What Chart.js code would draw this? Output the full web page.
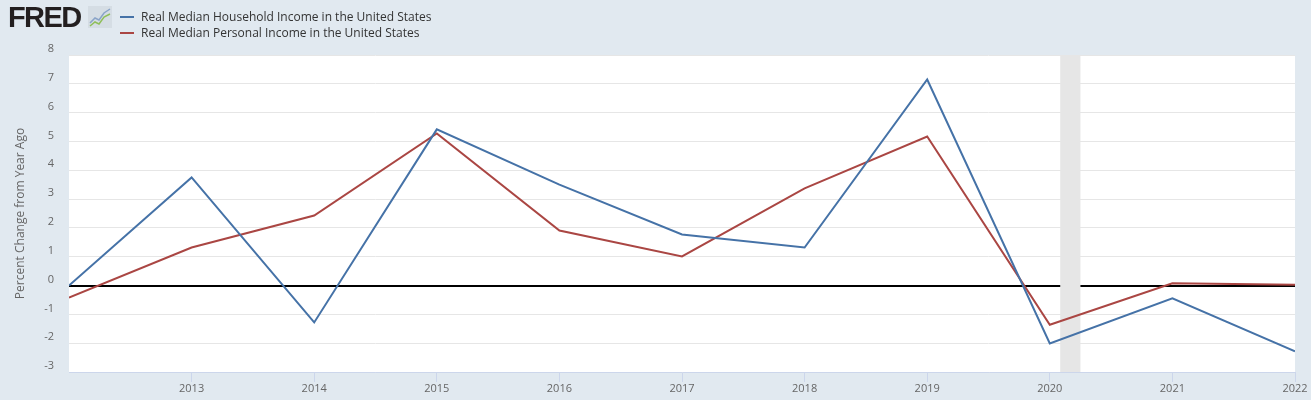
<!DOCTYPE html>
<html>
<head>
<meta charset="utf-8">
<script src="https://cdn.jsdelivr.net/npm/chart.js@4"></script>
<style>
  html, body { margin: 0; padding: 0; background: #e1e9f0; }
  body { width: 1311px; height: 400px; position: relative; overflow: hidden; font-family: "Open Sans", sans-serif; }
  #chart { position: absolute; left: 0; top: 0; }
  .logo { position: absolute; left: 8px; top: 1px; font-family: "Liberation Sans", Arial, sans-serif; font-weight: bold; font-size: 29px; letter-spacing: -1.6px; color: #231f20; }
  .icon { position: absolute; left: 88px; top: 6px; }
  .legend { position: absolute; left: 120px; top: 9px; font-size: 12px; color: #333; line-height: 16px; }
  .legend div { position: relative; padding-left: 21px; white-space: nowrap; }
  .legend span { position: absolute; left: 0; top: 7px; width: 14px; height: 2px; }
</style>
</head>
<body>
<canvas id="chart" width="1311" height="400"></canvas>
<div class="logo">FRED</div>
<svg class="icon" width="24" height="22" viewBox="0 0 24 22">
  <rect x="0" y="0" width="24" height="22" fill="#d5dde4"/>
  <polyline points="2,17 7,12 11,14 16,7 22,3" fill="none" stroke="#8aa4c8" stroke-width="1.5"/>
  <polyline points="2,20 7,16 11,18 16,11 22,8" fill="none" stroke="#8fbf5a" stroke-width="1.5"/>
</svg>
<div class="legend">
  <div><span style="background:#4572a7"></span>Real Median Household Income in the United States</div>
  <div><span style="background:#aa4643"></span>Real Median Personal Income in the United States</div>
</div>
<script>
// valeurs (variation en % par rapport a l'annee precedente)
const years = [2012, 2013, 2014, 2015, 2016, 2017, 2018, 2019, 2020, 2021, 2022];
const household = [0.0, 3.75, -1.28, 5.42, 3.5, 1.77, 1.32, 7.15, -2.01, -0.44, -2.28];
const personal = [-0.42, 1.32, 2.43, 5.28, 1.91, 1.01, 3.37, 5.17, -1.36, 0.08, 0.03];
const recession = [2020.085, 2020.25];

function toPoints(values){
    return years.map((yr, i) => ({x: yr, y: values[i]}));
}

// fond blanc de la zone du graphique + bande de recession
const plotBackground = {
    id: 'plotBackground',
    beforeDraw(chart){
        const a = chart.chartArea;
        chart.ctx.save();
        chart.ctx.fillStyle = '#ffffff';
        chart.ctx.fillRect(a.left, a.top, a.right - a.left, a.bottom - a.top);
        chart.ctx.restore();
    },
    beforeDatasetsDraw(chart){
        const a = chart.chartArea;
        const x = chart.scales.x;
        const x1 = x.getPixelForValue(recession[0]);
        const x2 = x.getPixelForValue(recession[1]);
        chart.ctx.save();
        chart.ctx.fillStyle = '#e6e6e6';
        chart.ctx.fillRect(x1, a.top, x2 - x1, a.bottom - a.top);
        chart.ctx.restore();
    }
};

new Chart(document.getElementById('chart'), {
    type: 'line',
    data: {
        datasets: [{
            label: 'Real Median Household Income in the United States',
            data: toPoints(household),
            borderColor: '#4572a7',
            borderWidth: 2,
            pointRadius: 0,
            tension: 0
        }, {
            label: 'Real Median Personal Income in the United States',
            data: toPoints(personal),
            borderColor: '#aa4643',
            borderWidth: 2,
            pointRadius: 0,
            tension: 0
        }]
    },
    options: {
        responsive: false,
        animation: false,
        layout: { padding: { top: 55, right: 16, left: 0, bottom: 0 } },
        plugins: {
            legend: { display: false },
            tooltip: { enabled: false }
        },
        scales: {
            x: {
                type: 'linear',
                min: 2012,
                max: 2022,
                afterFit(scale){ scale.height = 28; },
                border: { color: '#ccd6eb' },
                grid: {
                    drawOnChartArea: false,
                    drawTicks: true,
                    tickLength: 10,
                    color: (c) => c.tick && c.tick.value === 2012 ? 'rgba(0,0,0,0)' : '#ccd6eb'
                },
                ticks: {
                    stepSize: 1,
                    padding: 0,
                    color: '#666',
                    font: { family: 'Open Sans', size: 11 },
                    callback: (v) => v === 2012 ? '' : String(v)
                }
            },
            y: {
                min: -3,
                max: 8,
                afterFit(scale){ scale.width = 69; },
                border: { display: false },
                grid: {
                    drawTicks: false,
                    color: (c) => c.tick && c.tick.value === 0 ? '#000000' : '#e6e6e6',
                    lineWidth: (c) => c.tick && c.tick.value === 0 ? 2 : 1
                },
                ticks: {
                    stepSize: 1,
                    padding: 15,
                    labelOffset: -6,
                    color: '#666',
                    font: { family: 'Open Sans', size: 11 }
                },
                title: {
                    display: true,
                    text: 'Percent Change from Year Ago',
                    color: '#666',
                    font: { family: 'Open Sans', size: 12 },
                    padding: { top: 13, bottom: 0 }
                }
            }
        }
    },
    plugins: [plotBackground]
});
</script>
</body>
</html>
